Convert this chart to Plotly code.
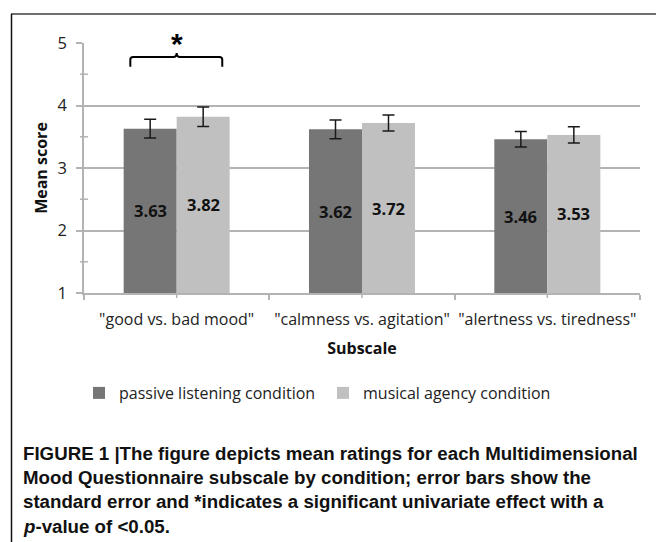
import plotly.graph_objects as go

# ---------------- data ----------------
categories = ['"good vs. bad mood"', '"calmness vs. agitation"', '"alertness vs. tiredness"']
series_names = ["passive listening condition", "musical agency condition"]
passive_means = [3.63, 3.62, 3.46]
agency_means = [3.82, 3.72, 3.53]
passive_se = [0.15, 0.15, 0.125]
agency_se = [0.155, 0.13, 0.13]
y_ticks = [1, 2, 3, 4, 5]
y_minor = [1.5, 2.5, 3.5, 4.5]
AXIS_MIN, AXIS_MAX = 1, 5

caption_lines = [
    "<b>FIGURE 1 |The figure depicts mean ratings for each Multidimensional</b>",
    "<b>Mood Questionnaire subscale by condition; error bars show the</b>",
    "<b>standard error and *indicates a significant univariate effect with a</b>",
    "<b><i>p</i>-value of &lt;0.05.</b>",
]

# ---------------- layout helpers (pixel -> paper) ----------------
W, H = 656, 542
PL, PR, PT, PB = 84, 640, 43, 293


def px_x(p):
    return (p - PL) / (PR - PL)


def px_y(p):
    return (PB - p) / (PB - PT)


COL_DARK = "#767676"
COL_LIGHT = "#c0c0c0"
GRID = "#b3b3b3"
FONT = "Open Sans"

fig = go.Figure()
fig.add_trace(go.Bar(
    x=categories, y=passive_means, name=series_names[0],
    marker=dict(color=COL_DARK, line=dict(width=0)),
    error_y=dict(type="data", array=passive_se, color="#1a1a1a", thickness=1.5, width=6),
))
fig.add_trace(go.Bar(
    x=categories, y=agency_means, name=series_names[1],
    marker=dict(color=COL_LIGHT, line=dict(width=0)),
    error_y=dict(type="data", array=agency_se, color="#1a1a1a", thickness=1.5, width=6),
))

annotations = []
# data labels centred in the visible part of each bar
for means, shift in ((passive_means, -26.5), (agency_means, 26.5)):
    for c, v in zip(categories, means):
        annotations.append(dict(
            x=c, y=(AXIS_MIN + v) / 2, xref="x", yref="y", xshift=shift,
            text=f"<b>{v:.2f}</b>", showarrow=False,
            font=dict(family=FONT, size=16.5, color="#111111"),
        ))

# significance star
annotations.append(dict(
    x=0, y=5.0, xref="x", yref="y", text="<b>*</b>", showarrow=False,
    font=dict(family="Liberation Sans", size=30, color="#000000"),
    yanchor="middle", yshift=0,
))

# caption
for i, line in enumerate(caption_lines):
    annotations.append(dict(
        x=px_x(21), y=px_y(453 + i * 24.4), xref="paper", yref="paper",
        xanchor="left", yanchor="middle", align="left", text=line, showarrow=False,
        font=dict(family="Liberation Sans", size=18.7, color="#111111"),
    ))

shapes = []
# outer frame (top grey, left black)
shapes.append(dict(type="line", xref="paper", yref="paper", layer="above",
                   x0=px_x(11), x1=px_x(660), y0=px_y(14), y1=px_y(14),
                   line=dict(color="#6e6e6e", width=2.2)))
shapes.append(dict(type="line", xref="paper", yref="paper", layer="above",
                   x0=px_x(11.5), x1=px_x(11.5), y0=px_y(14), y1=px_y(550),
                   line=dict(color="#111111", width=1.5)))
# minor y ticks crossing the axis
for m in y_minor:
    shapes.append(dict(type="line", xref="paper", yref="y",
                       x0=px_x(80), x1=px_x(88), y0=m, y1=m,
                       line=dict(color=GRID, width=1.5)))
# x ticks at category centres
for i in range(len(categories)):
    shapes.append(dict(type="line", xref="x", yref="paper",
                       x0=i, x1=i, y0=0, y1=px_y(PB + 5),
                       line=dict(color=GRID, width=1.5)))
# bracket over first category
shapes.append(dict(
    type="path", xref="x", yref="y",
    path=("M -0.25,4.62 L -0.25,4.735 Q -0.25,4.776 -0.235,4.776 "
          "L -0.018,4.776 Q 0,4.776 0,4.84 Q 0,4.776 0.018,4.776 "
          "L 0.231,4.776 Q 0.246,4.776 0.246,4.735 L 0.246,4.62"),
    line=dict(color="#000000", width=2),
))

fig.update_layout(
    width=W, height=H,
    margin=dict(l=PL, r=W - PR, t=PT, b=H - PB, pad=0),
    paper_bgcolor="white", plot_bgcolor="white",
    barmode="group", bargap=0.428, bargroupgap=0,
    font=dict(family=FONT, size=16, color="#222222"),
    showlegend=True,
    legend=dict(
        orientation="h", x=px_x(79), xanchor="left", y=px_y(393), yanchor="middle",
        font=dict(family=FONT, size=16, color="#222222"),
        entrywidth=199, entrywidthmode="pixels",
        bgcolor="rgba(0,0,0,0)", itemclick=False,
    ),
    annotations=annotations,
    shapes=shapes,
)

fig.update_xaxes(
    type="category", tickson="boundaries", tickangle=0,
    showline=True, linecolor=GRID, linewidth=1.5,
    ticks="outside", ticklen=5, tickcolor=GRID, tickwidth=1.5,
    showgrid=False, zeroline=False,
    tickfont=dict(family=FONT, size=16, color="#222222"),
    ticklabelstandoff=11,
    title=dict(text="<b>Subscale</b>", standoff=14,
               font=dict(family=FONT, size=16, color="#111111")),
    automargin=False,
)
fig.update_yaxes(
    range=[AXIS_MIN, AXIS_MAX], tickvals=y_ticks,
    showline=True, linecolor=GRID, linewidth=1.5,
    ticks="outside", ticklen=6, tickcolor=GRID, tickwidth=1.5,
    showgrid=True, gridcolor=GRID, gridwidth=1.5, zeroline=False,
    tickfont=dict(family=FONT, size=16.5, color="#222222"),
    ticklabelstandoff=6,
    title=dict(text="<b>Mean score</b>", standoff=6,
               font=dict(family=FONT, size=16, color="#111111")),
    automargin=False,
)

fig.write_html("out.html", config={"displayModeBar": False},
               post_script="document.body.style.margin='0';")
